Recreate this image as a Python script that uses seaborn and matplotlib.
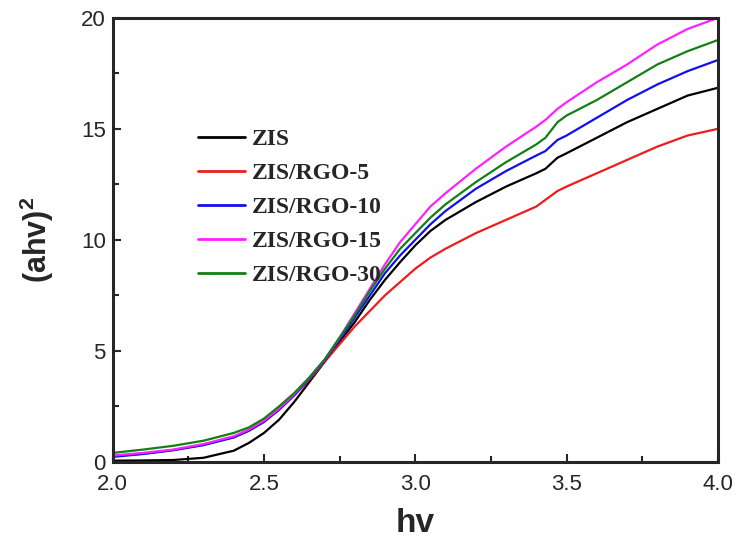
import matplotlib
matplotlib.use("Agg")
import matplotlib.pyplot as plt
import numpy as np
import pandas as pd
import seaborn as sns
from matplotlib.ticker import MultipleLocator

# photon energy grid (eV)
hv = [2.0, 2.1, 2.2, 2.3, 2.4, 2.45, 2.5, 2.55, 2.6, 2.65, 2.7, 2.75, 2.8, 2.85, 2.9,
      2.95, 3.0, 3.05, 3.1, 3.2, 3.3, 3.4, 3.43, 3.47, 3.5, 3.6, 3.7, 3.8, 3.9, 4.0]

zis = [0.05, 0.06, 0.08, 0.18, 0.5, 0.85, 1.3, 1.9, 2.7, 3.6, 4.5, 5.4, 6.3, 7.3, 8.2,
       9.0, 9.75, 10.4, 10.9, 11.7, 12.4, 13.0, 13.2, 13.7, 13.9, 14.6, 15.3, 15.9, 16.5, 16.85]
rgo5 = [0.25, 0.37, 0.53, 0.77, 1.1, 1.4, 1.8, 2.35, 3.0, 3.7, 4.5, 5.3, 6.1, 6.8, 7.5,
        8.1, 8.7, 9.2, 9.6, 10.3, 10.9, 11.5, 11.8, 12.2, 12.4, 13.0, 13.6, 14.2, 14.7, 15.0]
rgo10 = [0.22, 0.35, 0.52, 0.75, 1.1, 1.4, 1.8, 2.35, 3.0, 3.75, 4.55, 5.5, 6.5, 7.5, 8.5,
         9.3, 10.0, 10.7, 11.3, 12.3, 13.1, 13.8, 14.0, 14.5, 14.7, 15.5, 16.3, 17.0, 17.6, 18.1]
rgo15 = [0.28, 0.4, 0.55, 0.8, 1.15, 1.45, 1.85, 2.4, 3.05, 3.8, 4.6, 5.6, 6.7, 7.8, 8.9,
         9.9, 10.7, 11.5, 12.1, 13.2, 14.2, 15.1, 15.4, 15.9, 16.2, 17.1, 17.9, 18.8, 19.5, 20.0]
rgo30 = [0.4, 0.55, 0.72, 0.95, 1.3, 1.55, 1.95, 2.5, 3.1, 3.8, 4.6, 5.6, 6.6, 7.7, 8.7,
         9.6, 10.3, 11.0, 11.6, 12.6, 13.5, 14.3, 14.6, 15.3, 15.6, 16.3, 17.1, 17.9, 18.5, 19.0]

samples = ["ZIS", "ZIS/RGO-5", "ZIS/RGO-10", "ZIS/RGO-15", "ZIS/RGO-30"]
colors = ["black", "#ee1c1c", "#1010ee", "#ff20ff", "#128012"]

frames = []
for name, vals in zip(samples, [zis, rgo5, rgo10, rgo15, rgo30]):
    frames.append(pd.DataFrame({"hv": hv, "y": vals, "sample": name}))
df = pd.concat(frames, ignore_index=True)

sns.set_style("ticks")
plt.rcParams["font.family"] = ["Liberation Sans", "DejaVu Sans"]
plt.rcParams["mathtext.fontset"] = "custom"
plt.rcParams["mathtext.bf"] = "Liberation Sans:bold"

fig = plt.figure(figsize=(7.37, 5.42), dpi=100)
ax = fig.add_axes([0.153, 0.148, 0.821, 0.819])

sns.lineplot(data=df, x="hv", y="y", hue="sample", hue_order=samples,
             palette=colors, linewidth=1.6, ax=ax, sort=False)

ax.set_xlim(2.0, 4.0)
ax.set_ylim(0, 20)
ax.xaxis.set_major_locator(MultipleLocator(0.5))
ax.xaxis.set_minor_locator(MultipleLocator(0.25))
ax.yaxis.set_major_locator(MultipleLocator(5))
ax.yaxis.set_minor_locator(MultipleLocator(2.5))
ax.xaxis.set_major_formatter(plt.FormatStrFormatter("%.1f"))
ax.tick_params(which="both", direction="in", width=1.5, labelsize=16,
               top=False, right=False)
ax.tick_params(axis="x", which="major", pad=9)
ax.tick_params(axis="y", which="major", pad=5)
ax.tick_params(which="major", length=6)
ax.tick_params(which="minor", length=4)
for s in ax.spines.values():
    s.set_linewidth(2.2)

ax.set_xlabel("hv", fontsize=24, fontweight="bold", labelpad=9)
ax.set_ylabel("(ahv)$^\\mathbf{2}$", fontsize=22, fontweight="bold", labelpad=18)

leg = ax.legend(loc="upper left", bbox_to_anchor=(0.105, 0.799), frameon=False,
                handlelength=2.0, handletextpad=0.3, labelspacing=0.53,
                prop={"family": "Liberation Serif", "weight": "bold", "size": 17})
for line in leg.get_lines():
    line.set_linewidth(2)

fig.savefig("out.png", dpi=100)
